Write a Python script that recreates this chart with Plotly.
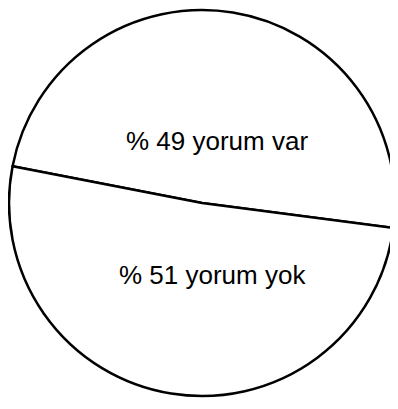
import plotly.graph_objects as go

# slice data
labels = ["yorum var", "yorum yok"]
values = [49, 51]

# caption positions (paper coords) for each slice
label_x = [0.535, 0.524]
label_y = [0.711, 0.334]

fig = go.Figure(
    go.Pie(
        labels=labels,
        values=values,
        sort=False,
        direction="clockwise",
        rotation=-79,
        textinfo="none",
        hoverinfo="label+percent",
        marker=dict(colors=["white", "white"], line=dict(color="black", width=2.5)),
        domain=dict(x=[0.0026, 0.9923], y=[0.0324, 0.995]),
        showlegend=False,
    )
)

for lab, val, xx, yy in zip(labels, values, label_x, label_y):
    fig.add_annotation(
        text=f"% {val} {lab}",
        xref="paper", yref="paper",
        x=xx, y=yy,
        showarrow=False,
        font=dict(family="Liberation Sans, Arial, sans-serif", size=26, color="black"),
    )

# page body keeps its default 8px margin, so the figure is sized to fit inside it
fig.update_layout(
    width=390,
    height=401,
    margin=dict(l=0, r=0, t=0, b=0),
    paper_bgcolor="white",
    plot_bgcolor="white",
)

fig.write_html("out.html")
